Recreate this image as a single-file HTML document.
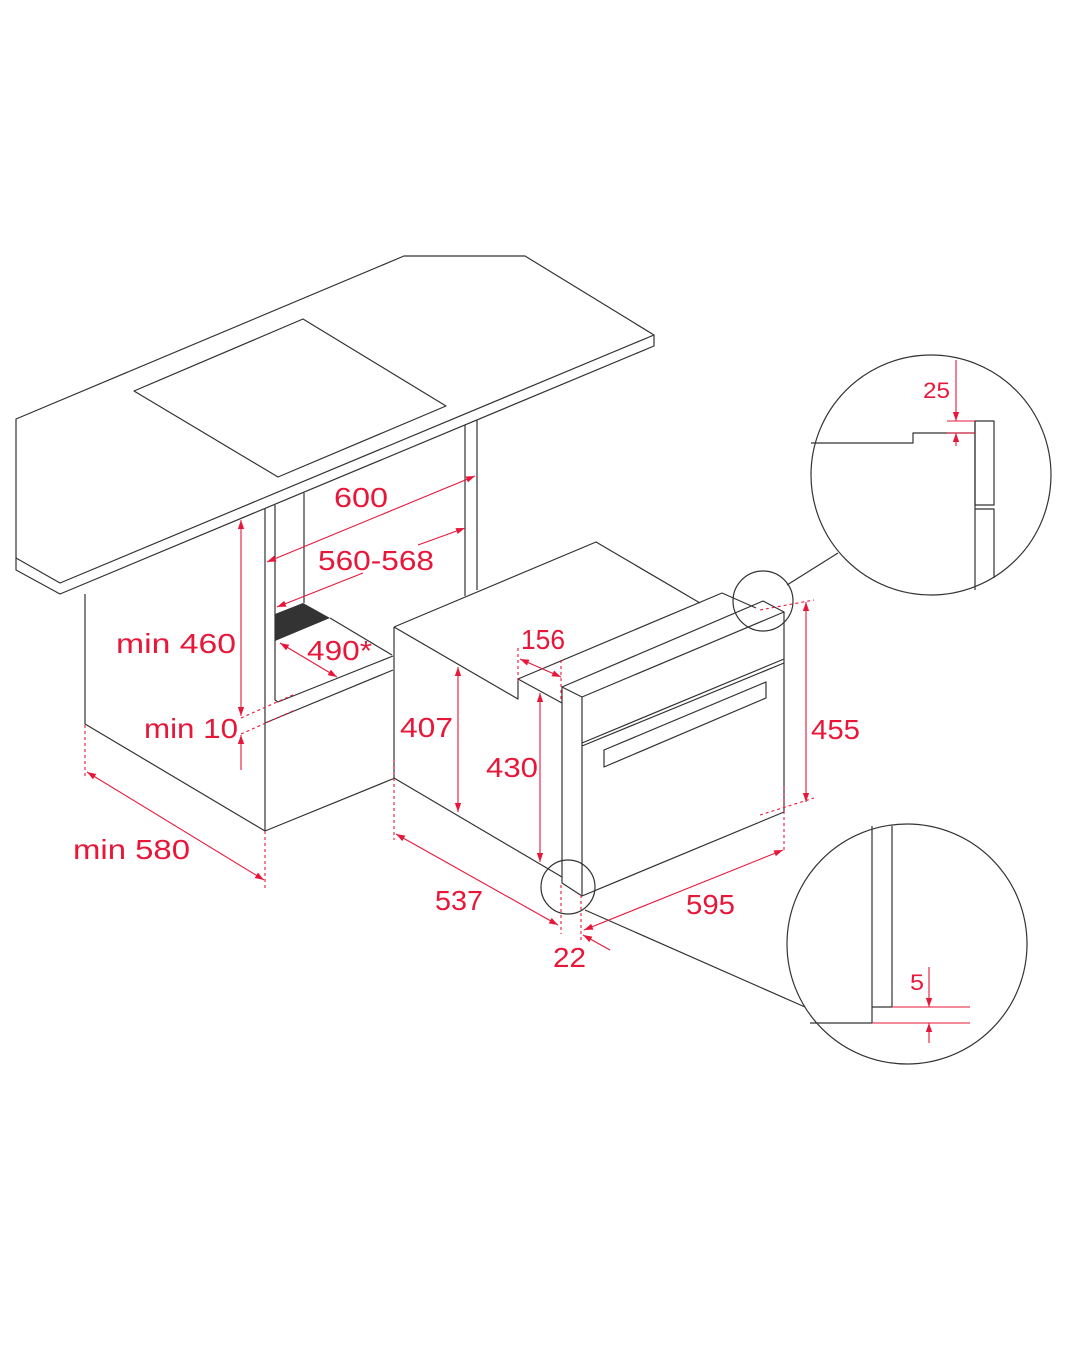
<!DOCTYPE html>
<html><head><meta charset="utf-8"><style>
html,body{margin:0;padding:0;background:#fff;}
svg{display:block;}
text{font-family:"Liberation Sans",sans-serif;fill:#e8173a;}
</style></head><body>
<svg width="1080" height="1350" viewBox="0 0 1080 1350" xmlns="http://www.w3.org/2000/svg">
<defs>
<marker id="a" viewBox="0 0 10 10" refX="10" refY="5" markerWidth="9" markerHeight="9" orient="auto-start-reverse" markerUnits="userSpaceOnUse"><path d="M0,1.5 L10,5 L0,8.5 z" fill="#e8173a"/></marker>
</defs>
<g fill="none" stroke="#333" stroke-width="1.2" stroke-linejoin="round">
<path d="M16,419 L404,256 L525,256 L654,335 L654,346 L60,594 L16,570 Z"/>
<path d="M16,558 L60,583 L654,335"/>
<path d="M134,391 L303,319 L446,406 L278,477 Z"/>
<path d="M85,594 L85,724 L265,831 L265,509"/>
<path d="M265,831 L395,778"/>
<path d="M275,505 L275,700 L278,702 L393,656"/>
<path d="M304,493 L304,603"/>
<path d="M265,723 L393,670"/>
<path d="M465,425 L465,596 M477,420 L477,590"/>
<path d="M330,618 L392,655"/>
<path d="M394,627 L596,542 L700,603"/>
<path d="M394,627 L518,699 L518,679 L722,593 L756,608"/>
<path d="M518,679 L562,703"/>
<path d="M394,627 L394,778 L562,877"/>
<path d="M562,687 L763,601 L784,612 L582,697 Z"/>
<path d="M562,687 L562,883 L582,896 L784,812 L784,612"/>
<path d="M582,697 L582,896"/>
<path d="M582,743 L784,659 M582,746 L784,663"/>
<path d="M604,767 L604,750 L766,682 L766,698 Z"/>
<circle cx="763" cy="601" r="30"/>
<circle cx="568" cy="887" r="27"/>
<path d="M787,585 L838,553"/>
<path d="M585,910 L805,1007"/>
<circle cx="931" cy="475" r="120"/>
<circle cx="907" cy="944" r="120"/>
<path d="M811,443 L913,443 L913,433 L975,433"/>
<path d="M975,421 L994,421 L994,505 L975,505 Z"/>
<path d="M975,421 L975,590 M975,509 L994,509 L994,578"/>
<path d="M872,826 L872,1023 L810,1023 M892,826 L892,1007 L872,1007"/>
</g>
<polygon points="275,614 303,603 330,618 275,641" fill="#333"/>
<g stroke="#e8173a" stroke-width="1.1" fill="none">
<g stroke-dasharray="3,3">
<path d="M241,718 L295,694 M241,734 L295,710"/>
<path d="M85,725 L85,777 M265,831 L265,888"/>
<path d="M518,648 L518,682 M561,660 L561,700"/>
<path d="M394,760 L394,840 M561,885 L561,934 M581,895 L581,942"/>
<path d="M784,787 L784,850"/>
<path d="M760,610 L814,600 M760,815 L814,798"/>
</g>
<g marker-start="url(#a)" marker-end="url(#a)">
<path d="M241,520 L241,716"/>
<path d="M87,772 L264,880"/>
<path d="M267,562 L475,476"/>
<path d="M280,643 L337,677"/>
<path d="M458,667 L458,812"/>
<path d="M540,693 L540,862"/>
<path d="M520,659 L561,677"/>
<path d="M396,834 L558,925"/>
<path d="M584,930 L783,850"/>
<path d="M806,602 L806,802"/>
</g>
<path d="M363,573 L277,607" marker-end="url(#a)"/>
<path d="M418,545 L465,528" marker-end="url(#a)"/>
<path d="M241,770 L241,735" marker-end="url(#a)"/>
<path d="M610,950 L583,935" marker-end="url(#a)"/>
<path d="M956,360 L956,421" marker-end="url(#a)"/>
<path d="M956,446 L956,433" marker-end="url(#a)"/>
<path d="M947,421 L975,421 M947,433 L975,433"/>
<path d="M929,967 L929,1007" marker-end="url(#a)"/>
<path d="M929,1043 L929,1023" marker-end="url(#a)"/>
<path d="M892,1007 L970,1007 M872,1023 L970,1023"/>
</g>
<g font-size="28" lengthAdjust="spacingAndGlyphs">
<text x="116" y="653" textLength="120" lengthAdjust="spacingAndGlyphs">min 460</text>
<text x="144" y="738" textLength="94" lengthAdjust="spacingAndGlyphs">min 10</text>
<text x="73" y="859" textLength="117" lengthAdjust="spacingAndGlyphs">min 580</text>
<text x="334" y="507" textLength="54" lengthAdjust="spacingAndGlyphs">600</text>
<text x="318" y="570" textLength="116" lengthAdjust="spacingAndGlyphs">560-568</text>
<text x="307" y="660" textLength="65" lengthAdjust="spacingAndGlyphs">490*</text>
<text x="400" y="737" textLength="53" lengthAdjust="spacingAndGlyphs">407</text>
<text x="486" y="777" textLength="52" lengthAdjust="spacingAndGlyphs">430</text>
<text x="521" y="649" textLength="44" lengthAdjust="spacingAndGlyphs">156</text>
<text x="435" y="910" textLength="48" lengthAdjust="spacingAndGlyphs">537</text>
<text x="553" y="967" textLength="33" lengthAdjust="spacingAndGlyphs">22</text>
<text x="686" y="914" textLength="49" lengthAdjust="spacingAndGlyphs">595</text>
<text x="811" y="739" textLength="49" lengthAdjust="spacingAndGlyphs">455</text>
</g>
<text x="923" y="398" font-size="22" textLength="27" lengthAdjust="spacingAndGlyphs">25</text>
<text x="910" y="990" font-size="22" textLength="14" lengthAdjust="spacingAndGlyphs">5</text>
</svg>
</body></html>
